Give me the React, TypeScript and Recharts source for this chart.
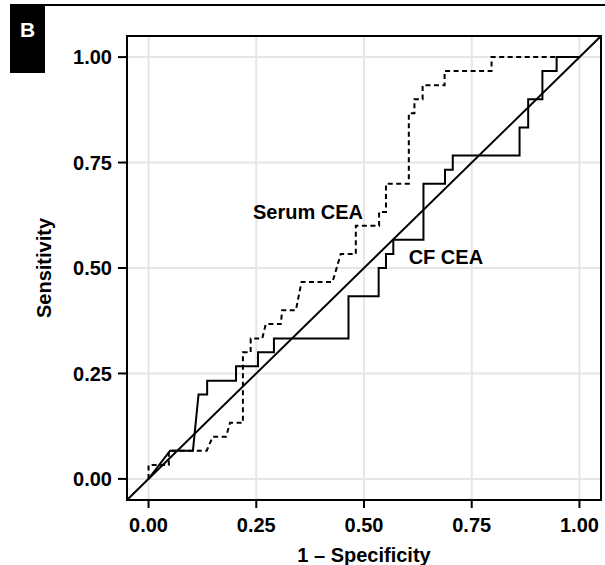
import React from "react";
import {
  LineChart,
  Line,
  XAxis,
  YAxis,
  CartesianGrid,
  ReferenceArea,
  ReferenceDot,
} from "recharts";

const axisTicks = [0, 0.25, 0.5, 0.75, 1];

// CF CEA roc curve (1 - specificity, sensitivity)
const cfFpr = [0, 0.05, 0.103, 0.116, 0.136, 0.136, 0.203, 0.203, 0.254, 0.254, 0.291, 0.291, 0.464, 0.464, 0.534, 0.534, 0.551, 0.551, 0.568, 0.568, 0.638, 0.638, 0.688, 0.688, 0.706, 0.706, 0.861, 0.861, 0.881, 0.881, 0.914, 0.914, 0.947, 0.947, 1];
const cfTpr = [0, 0.067, 0.067, 0.2, 0.2, 0.233, 0.233, 0.267, 0.267, 0.3, 0.3, 0.333, 0.333, 0.433, 0.433, 0.5, 0.5, 0.533, 0.533, 0.567, 0.567, 0.7, 0.7, 0.733, 0.733, 0.767, 0.767, 0.833, 0.833, 0.9, 0.9, 0.967, 0.967, 1, 1];

// Serum CEA roc curve
const serumFpr = [0, 0, 0.047, 0.047, 0.135, 0.149, 0.18, 0.189, 0.219, 0.219, 0.237, 0.237, 0.264, 0.272, 0.307, 0.31, 0.342, 0.355, 0.427, 0.446, 0.481, 0.481, 0.535, 0.535, 0.551, 0.551, 0.604, 0.604, 0.617, 0.617, 0.636, 0.636, 0.687, 0.687, 0.796, 0.796, 1];
const serumTpr = [0, 0.033, 0.033, 0.067, 0.067, 0.1, 0.1, 0.133, 0.133, 0.3, 0.3, 0.333, 0.333, 0.367, 0.367, 0.4, 0.4, 0.467, 0.467, 0.533, 0.533, 0.6, 0.6, 0.633, 0.633, 0.7, 0.7, 0.867, 0.867, 0.9, 0.9, 0.933, 0.933, 0.967, 0.967, 1, 1];

// chance line, corner to corner of the panel
const diagX = [-0.05, 1.05];
const diagY = [-0.05, 1.05];

const toPoints = (xs: number[], ys: number[]) => xs.map((x, i) => ({ x, y: ys[i] }));

const cfData = toPoints(cfFpr, cfTpr);
const serumData = toPoints(serumFpr, serumTpr);
const diagData = toPoints(diagX, diagY);

const font = "'Liberation Sans', Arial, Helvetica, sans-serif";
const fmt = (v: number) => v.toFixed(2);
const tickStyle = { fill: "#000", fontSize: 20, fontWeight: 700, fontFamily: font };

const YTitle = (props: any) => {
  const vb = props.viewBox || {};
  const cx = 44;
  const cy = vb.y + vb.height / 2;
  return (
    <text
      x={cx}
      y={cy}
      transform={`rotate(-90 ${cx} ${cy})`}
      textAnchor="middle"
      dominantBaseline="central"
      fontFamily={font}
      fontSize={20}
      fontWeight={700}
      fill="#000"
    >
      Sensitivity
    </text>
  );
};

const XTitle = (props: any) => {
  const vb = props.viewBox || {};
  return (
    <text
      x={vb.x + vb.width / 2}
      y={562}
      textAnchor="middle"
      fontFamily={font}
      fontSize={20}
      fontWeight={700}
      fill="#000"
    >
      1 – Specificity
    </text>
  );
};

export default function App() {
  return (
    <div style={{ position: "absolute", left: 0, top: 0, width: 605, height: 565, background: "#fff" }}>
      <div style={{ position: "absolute", left: 45, top: 4, width: 560, height: 1.5, background: "#000" }} />
      <div
        style={{
          position: "absolute",
          left: 10,
          top: 4,
          width: 35,
          height: 69,
          background: "#000",
          color: "#fff",
          fontFamily: font,
          fontWeight: 700,
          fontSize: 21,
          lineHeight: "21px",
          paddingTop: 15,
          boxSizing: "border-box",
          textAlign: "center",
        }}
      >
        B
      </div>
      <LineChart width={605} height={565} margin={{ top: 36, right: 4, bottom: 0, left: 0 }}>
        <CartesianGrid stroke="#e6e6e6" strokeWidth={2} />
        <XAxis
          type="number"
          dataKey="x"
          domain={[-0.05, 1.05]}
          ticks={axisTicks}
          tickFormatter={fmt}
          allowDataOverflow
          height={65}
          axisLine={false}
          tickLine={{ stroke: "#000", strokeWidth: 2 }}
          tickSize={8}
          tickMargin={10}
          tick={tickStyle}
          label={<XTitle />}
        />
        <YAxis
          type="number"
          dataKey="y"
          domain={[-0.05, 1.05]}
          ticks={axisTicks}
          tickFormatter={fmt}
          allowDataOverflow
          width={127}
          axisLine={false}
          tickLine={{ stroke: "#000", strokeWidth: 2 }}
          tickSize={9}
          tickMargin={6}
          tick={tickStyle}
          label={<YTitle />}
        />
        <Line data={serumData} dataKey="y" type="linear" stroke="#000" strokeWidth={2} strokeDasharray="5 3.5" dot={false} activeDot={false} isAnimationActive={false} />
        <Line data={cfData} dataKey="y" type="linear" stroke="#000" strokeWidth={2} dot={false} activeDot={false} isAnimationActive={false} />
        <Line data={diagData} dataKey="y" type="linear" stroke="#000" strokeWidth={2} dot={false} activeDot={false} isAnimationActive={false} />
        <ReferenceArea x1={-0.05} x2={1.05} y1={-0.05} y2={1.05} fill="none" stroke="#000" strokeWidth={2} ifOverflow="visible" />
        <ReferenceDot x={0.37} y={0.633} r={0} fill="none" stroke="none" label={{ value: "Serum CEA", position: "center", fill: "#000", fontSize: 20, fontWeight: 700, fontFamily: font }} />
        <ReferenceDot x={0.69} y={0.526} r={0} fill="none" stroke="none" label={{ value: "CF CEA", position: "center", fill: "#000", fontSize: 20, fontWeight: 700, fontFamily: font }} />
      </LineChart>
    </div>
  );
}
